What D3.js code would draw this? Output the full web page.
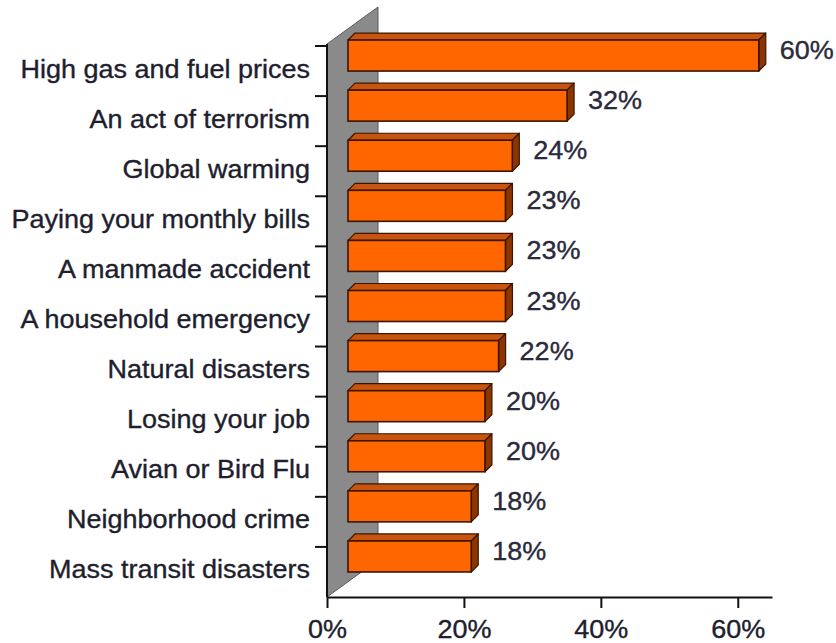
<!DOCTYPE html>
<html>
<head>
<meta charset="utf-8">
<script src="https://cdn.jsdelivr.net/npm/d3@7"></script>
<style>
  html, body { margin: 0; padding: 0; background: #ffffff; }
  svg { display: block; }
  text { font-family: "Liberation Sans", Arial, sans-serif; }
</style>
</head>
<body>
<svg id="chart" width="836" height="643"></svg>
<script>
// Share of respondents worried about each concern
const categories = [
  "High gas and fuel prices",
  "An act of terrorism",
  "Global warming",
  "Paying your monthly bills",
  "A manmade accident",
  "A household emergency",
  "Natural disasters",
  "Losing your job",
  "Avian or Bird Flu",
  "Neighborhood crime",
  "Mass transit disasters"
];
const values = [60, 32, 24, 23, 23, 23, 22, 20, 20, 18, 18];
const xTicks = [0, 20, 40, 60];

const svg = d3.select("#chart");

// Plot frame
const plotLeft = 327, plotRight = 772, plotTop = 46, plotBottom = 597;
const x = d3.scaleLinear().domain([0, 65]).range([plotLeft, plotRight]);
const y = d3.scaleBand().domain(categories).range([plotTop, plotBottom]);

// 3D geometry: wall depth, bar placement inside the depth, bar thickness
const wallDepth = { dx: 51, dy: -37 };
const barShift = { dx: 21, dy: -15.5 };
const barDepth = { dx: 7, dy: -7 };
const barH = 31;
const stretch = 1.08;   // horizontal text stretch
const fontSize = 25;

const ink = "#1e1e2e";

// Side wall
svg.append("polygon")
  .attr("points", [
    [plotLeft, plotBottom],
    [plotLeft, plotTop - 2],
    [plotLeft + wallDepth.dx, plotTop - 2 + wallDepth.dy],
    [plotLeft + wallDepth.dx, plotBottom + wallDepth.dy]
  ].map(p => p.join(",")).join(" "))
  .attr("fill", "#8a8a8a")
  .attr("stroke", "#5a5a5a")
  .attr("stroke-width", 1);

// Bars
const barG = svg.append("g");
categories.forEach((c, i) => {
  const v = values[i];
  const cy = y(c) + y.bandwidth() / 2 + barShift.dy;
  const x0 = x(0) + barShift.dx;
  const x1 = x(v) + barShift.dx;
  const y0 = cy - barH / 2;
  const y1 = cy + barH / 2;
  const g = barG.append("g");
  const edge = "#3a1600";
  // top face
  g.append("polygon")
    .attr("points", [[x0, y0], [x0 + barDepth.dx, y0 + barDepth.dy], [x1 + barDepth.dx, y0 + barDepth.dy], [x1, y0]]
      .map(p => p.join(",")).join(" "))
    .attr("fill", "#c85410").attr("stroke", edge).attr("stroke-width", 1.2).attr("stroke-linejoin", "round");
  // right face
  g.append("polygon")
    .attr("points", [[x1, y0], [x1 + barDepth.dx, y0 + barDepth.dy], [x1 + barDepth.dx, y1 + barDepth.dy], [x1, y1]]
      .map(p => p.join(",")).join(" "))
    .attr("fill", "#8c3500").attr("stroke", edge).attr("stroke-width", 1.2).attr("stroke-linejoin", "round");
  // front face
  g.append("rect")
    .attr("x", x0).attr("y", y0)
    .attr("width", x1 - x0).attr("height", barH)
    .attr("fill", "#ff6600").attr("stroke", edge).attr("stroke-width", 1.6);
  // value label
  g.append("text")
    .attr("transform", `translate(${x1 + barDepth.dx + 14},${y0 + 19}) scale(${stretch},1)`)
    .attr("font-size", fontSize)
    .attr("fill", "#2a2a3c")
    .attr("stroke", "#2a2a3c").attr("stroke-width", 0.35)
    .text(v + "%");
});

// Category axis: wall front edge, ticks at band boundaries, labels at band centres
svg.append("line")
  .attr("x1", plotLeft).attr("x2", plotLeft).attr("y1", plotTop - 2).attr("y2", plotBottom)
  .attr("stroke", "#111").attr("stroke-width", 2);

const bounds = categories.map(c => y(c));
svg.append("g").selectAll("line").data(bounds).join("line")
  .attr("x1", plotLeft - 12).attr("x2", plotLeft)
  .attr("y1", d => d).attr("y2", d => d)
  .attr("stroke", "#111").attr("stroke-width", 2);

svg.append("g").selectAll("text").data(categories).join("text")
  .attr("transform", d => `translate(310,${y(d) + y.bandwidth() / 2 + 6.5}) scale(${stretch},1)`)
  .attr("text-anchor", "end")
  .attr("font-size", fontSize)
  .attr("fill", ink)
  .attr("stroke", ink).attr("stroke-width", 0.35)
  .text(d => d);

// Value axis
const xAxis = d3.axisBottom(x)
  .tickValues(xTicks)
  .tickFormat(d => d + "%")
  .tickSize(11)
  .tickSizeOuter(0);

const xg = svg.append("g")
  .attr("transform", `translate(0,${plotBottom})`)
  .call(xAxis);
xg.select(".domain").attr("stroke", "#111").attr("stroke-width", 2);
xg.selectAll(".tick line").attr("stroke", "#111").attr("stroke-width", 2);
xg.selectAll(".tick text")
  .attr("y", 23)
  .attr("font-size", fontSize)
  .attr("font-family", "Liberation Sans, Arial, sans-serif")
  .attr("fill", ink)
  .attr("stroke", ink).attr("stroke-width", 0.35)
  .attr("transform", `scale(${stretch},1)`);
</script>
</body>
</html>
